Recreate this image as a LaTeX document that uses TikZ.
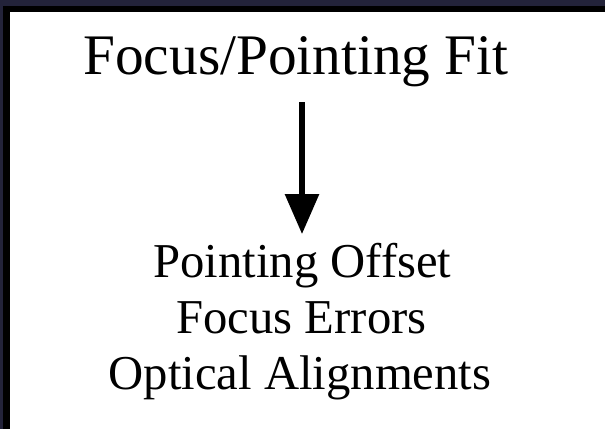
\documentclass[tikz,border=0pt]{standalone}
\usepackage{fontspec}
\setmainfont{Liberation Serif}
\usetikzlibrary{arrows.meta}
\definecolor{navy}{HTML}{23233A}
\begin{document}
\begin{tikzpicture}[x=0.75pt,y=-0.75pt,
  titletext/.style={font=\fontsize{43}{50}\selectfont, anchor=base, inner sep=0pt},
  itemtext/.style={font=\fontsize{36.5}{42}\selectfont, anchor=base, inner sep=0pt},
  arr/.style={line width=3.8pt, -{Triangle[length=30pt,width=25pt]}}]
\useasboundingbox (0,0) rectangle (605,429);
\fill[navy] (0,0) rectangle (605,429);
\fill[black] (3,6) rectangle (605,429);
\fill[white] (10,12) rectangle (605,429);
\node[titletext] (title) at (296,74) {Focus/Pointing Fit};
\node[itemtext] (l1) at (302.5,277) {Pointing Offset};
\node[itemtext] (l2) at (301.5,333) {Focus Errors};
\node[itemtext] (l3) at (300,389) {Optical Alignments};
\coordinate (a0) at (302,102);
\coordinate (a1) at (302,234);
\draw[arr] (a0) -- (a1);
\end{tikzpicture}
\end{document}
